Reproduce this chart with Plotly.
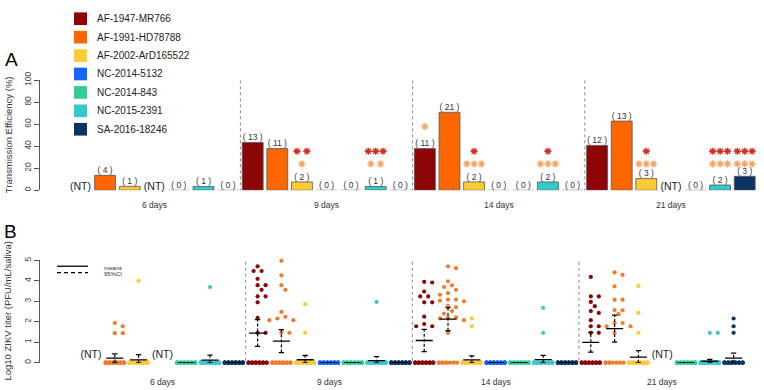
import numpy as np
import plotly.graph_objects as go

W, H = 764, 390
FONT = "Liberation Sans, Arial, sans-serif"

strains = ["AF-1947-MR766", "AF-1991-HD78788", "AF-2002-ArD165522", "NC-2014-5132",
           "NC-2014-843", "NC-2015-2391", "SA-2016-18246"]
colors = ["#8E0505", "#FF6600", "#FFCA33", "#1266FF", "#33CC99", "#36C9CC", "#0B3366"]
dot_colors = ["#8E0505", "#F27A28", "#FFCA33", "#1266FF", "#33CC99", "#36C9CC", "#0B3366"]
days = ["6 days", "9 days", "14 days", "21 days"]

# Panel A: transmission efficiency (%) by day and strain (None = not tested)
eff_6 = [None, 13.5, 3.5, None, 0, 3.4, 0]
eff_9 = [43.3, 37.8, 7.5, 0, 0, 3.4, 0]
eff_14 = [37.8, 70.8, 7.5, 0, 0, 7.5, 0]
eff_21 = [40.7, 62.8, 10.6, None, 0, 4.7, 12.7]

# number of positive saliva samples
npos_6 = [None, 4, 1, None, 0, 1, 0]
npos_9 = [13, 11, 2, 0, 0, 1, 0]
npos_14 = [11, 21, 2, 0, 0, 2, 0]
npos_21 = [12, 13, 3, None, 0, 2, 3]

# significance stars vs AF-1947-MR766 (red) and AF-1991-HD78788 (orange)
star_red_6 = [0, 0, 0, 0, 0, 0, 0]
star_red_9 = [0, 0, 2, 0, 0, 3, 0]
star_red_14 = [0, 0, 1, 0, 0, 1, 0]
star_red_21 = [0, 0, 1, 0, 0, 3, 3]
star_org_6 = [0, 0, 0, 0, 0, 0, 0]
star_org_9 = [0, 0, 1, 0, 0, 2, 0]
star_org_14 = [1, 0, 3, 0, 0, 3, 0]
star_org_21 = [0, 0, 3, 0, 0, 3, 3]

# Panel B: log10 titers of positive samples, and number of mosquitoes tested
titer_6 = [None, [1.94, 1.78, 1.44, 1.44], [4.0], None, [], [3.7], []]
titer_9 = [[4.71, 4.48, 4.48, 4.10, 3.79, 3.79, 3.56, 3.24, 3.24, 2.95, 2.19, 1.46, 1.46],
           [4.98, 4.27, 3.79, 3.56, 2.48, 2.24, 2.16, 2.08, 2.08, 1.46, 1.46],
           [2.86, 1.46], [], [], [2.97], []]
titer_14 = [[3.95, 3.92, 3.48, 3.24, 3.24, 2.95, 2.95, 2.25, 1.89, 1.78, 1.78],
            [4.71, 4.62, 3.98, 3.78, 3.70, 3.56, 3.40, 3.32, 3.08, 3.08, 3.03, 3.00, 2.76, 2.71,
             2.52, 2.40, 2.21, 2.21, 2.17, 2.08, 1.46],
            [2.17, 1.78], [], [], [2.68, 1.46], []]
titer_21 = [[4.19, 3.24, 3.24, 2.97, 2.76, 2.52, 2.43, 2.08, 1.78, 1.78, 1.46, 1.46],
            [4.41, 4.29, 3.73, 3.08, 3.08, 2.57, 2.56, 2.37, 1.94, 1.94, 1.78, 1.78, 1.46],
            [3.75, 2.43, 1.46], None, [], [1.46, 1.46], [2.16, 1.78, 1.46]]
ntest_6 = [None, 30, 30, None, 30, 30, 30]
ntest_9 = [30, 29, 30, 30, 30, 30, 30]
ntest_14 = [29, 30, 28, 30, 30, 28, 30]
ntest_21 = [30, 21, 28, None, 30, 42, 24]

eff = [eff_6, eff_9, eff_14, eff_21]
npos = [npos_6, npos_9, npos_14, npos_21]
star_red = [star_red_6, star_red_9, star_red_14, star_red_21]
star_org = [star_org_6, star_org_9, star_org_14, star_org_21]
titers = [titer_6, titer_9, titer_14, titer_21]
ntest = [ntest_6, ntest_9, ntest_14, ntest_21]

NS = len(strains)
NG = len(days)

# pixel geometry
A_L, A_R, A_TOP, A_BOT = 40, 756, 73, 186
A_C0, A_SL = 80.5, 24.6
B_L, B_R, B_TOP, B_BOT = 42, 756, 258, 363
B_C0, B_SL = 91.0, 23.8


def py(p):
    return 1 - p / H


def px(p):
    return p / W


fig = go.Figure()

# ---------- Panel A ----------
RED_STAR = "#D42A20"
ORG_STAR = "#F5A560"
bx, by, bc = [], [], []
zx, zy = [], []
lbl_x, lbl_y, lbl_t = [], [], []
nt_x = []
srx, sry, sox, soy = [], [], [], []
for g in range(NG):
    for s in range(NS):
        xc = g * NS + s
        v = eff[g][s]
        if v is None:
            nt_x.append(xc)
            continue
        if v > 0:
            bx.append(xc); by.append(v); bc.append(colors[s])
        else:
            zx += [xc - 0.43, xc + 0.43, None]; zy += [0, 0, None]
        lbl_x.append(xc); lbl_y.append(v); lbl_t.append("( %d )" % npos[g][s])
        yr, yo = 35.4, 24.0
        if v > 15:
            yo = v + 20
            yr = v + 31
        for k, (lx, ly, yy) in enumerate([(srx, sry, yr), (sox, soy, yo)]):
            cnt = [star_red, star_org][k][g][s]
            sp = 0.3 if cnt > 2 else 0.4
            for j in range(cnt):
                lx.append(xc + (j - (cnt - 1) / 2) * sp)
                ly.append(yy)

fig.add_trace(go.Bar(x=bx, y=by, width=0.85, marker=dict(color=bc, line=dict(color="#555555", width=0.8)),
                     xaxis="x", yaxis="y", showlegend=False, hoverinfo="skip"))
fig.add_trace(go.Scatter(x=zx, y=zy, mode="lines", line=dict(color="#8a8a8a", width=1),
                         xaxis="x", yaxis="y", showlegend=False, hoverinfo="skip", cliponaxis=False))
fig.add_trace(go.Scatter(x=lbl_x, y=lbl_y, mode="text", text=lbl_t, textposition="top center",
                         textfont=dict(size=8.5, color="#333333", family=FONT),
                         xaxis="x", yaxis="y", showlegend=False, hoverinfo="skip", cliponaxis=False))
fig.add_trace(go.Scatter(x=nt_x, y=[2.7] * len(nt_x), mode="text", text=["(NT)"] * len(nt_x),
                         textposition="middle center", textfont=dict(size=10.5, color="#222222", family=FONT),
                         xaxis="x", yaxis="y", showlegend=False, hoverinfo="skip", cliponaxis=False))
for (sx_, sy_, col) in [(srx, sry, RED_STAR), (sox, soy, ORG_STAR)]:
    fig.add_trace(go.Scatter(x=sx_, y=sy_, mode="markers",
                             marker=dict(symbol="asterisk-open", size=6, color=col,
                                         line=dict(color=col, width=1.3)),
                             xaxis="x", yaxis="y", showlegend=False, hoverinfo="skip", cliponaxis=False))

# ---------- Panel B ----------
def swarm(vals, sx=B_SL, sy=(B_BOT - B_TOP) / 5.0, d=5.5, step=4.0):
    placed, offs = [], []
    cands = [0]
    for j in range(1, 20):
        cands += [j, -j]
    for v in vals:
        xo = 0
        for c in cands:
            xo = c * step
            if all((xo - a) ** 2 + ((v - b) * sy) ** 2 >= d * d for a, b in placed):
                break
        placed.append((xo, v))
        offs.append(xo / sx)
    return offs


mx, my, cx, cy, capx, capy = [], [], [], [], [], []
pts = {s: ([], []) for s in range(NS)}
ntb_x = []
for g in range(NG):
    for s in range(NS):
        xc = g * NS + s
        tv = titers[g][s]
        if tv is None:
            ntb_x.append(xc)
            continue
        n = ntest[g][s]
        nz = n - len(tv)
        npos_z = min(nz, 6)
        zxs = np.linspace(-0.38, 0.38, npos_z) if npos_z > 1 else [0.0]
        for i in range(nz):
            pts[s][0].append(xc + zxs[i % len(zxs)]); pts[s][1].append(0.0)
        for o, v in zip(swarm(tv), tv):
            pts[s][0].append(xc + o); pts[s][1].append(v)
        allv = np.array(list(tv) + [0.0] * nz)
        m = allv.mean()
        mx += [xc - 0.36, xc + 0.36, None]; my += [m, m, None]
        if len(tv) > 0:
            se = allv.std(ddof=1) / np.sqrt(n)
            lo, hi = max(m - 1.96 * se, 0), m + 1.96 * se
            cx += [xc, xc, None]; cy += [lo, hi, None]
            for yy in (lo, hi):
                capx += [xc - 0.11, xc + 0.11, None]; capy += [yy, yy, None]

for s in range(NS):
    fig.add_trace(go.Scatter(x=pts[s][0], y=pts[s][1], mode="markers",
                             marker=dict(color=dot_colors[s], size=4.2, line=dict(width=0)),
                             xaxis="x2", yaxis="y2", showlegend=False, hoverinfo="skip", cliponaxis=False))
fig.add_trace(go.Scatter(x=cx, y=cy, mode="lines", line=dict(color="black", width=1.2, dash="3px,2px"),
                         xaxis="x2", yaxis="y2", showlegend=False, hoverinfo="skip", cliponaxis=False))
fig.add_trace(go.Scatter(x=capx, y=capy, mode="lines", line=dict(color="black", width=1.3),
                         xaxis="x2", yaxis="y2", showlegend=False, hoverinfo="skip", cliponaxis=False))
fig.add_trace(go.Scatter(x=mx, y=my, mode="lines", line=dict(color="black", width=1.3),
                         xaxis="x2", yaxis="y2", showlegend=False, hoverinfo="skip", cliponaxis=False))
fig.add_trace(go.Scatter(x=ntb_x, y=[0.38] * len(ntb_x), mode="text", text=["(NT)"] * len(ntb_x),
                         textposition="middle center", textfont=dict(size=10.5, color="#222222", family=FONT),
                         xaxis="x2", yaxis="y2", showlegend=False, hoverinfo="skip", cliponaxis=False))

shapes = []
annotations = []


def ann(**kw):
    base = dict(showarrow=False, xanchor="center", yanchor="middle")
    base.update(kw)
    annotations.append(base)


for g in range(1, NG):
    xb = g * NS - 0.5
    shapes.append(dict(type="line", xref="x", yref="y", x0=xb, x1=xb, y0=-1, y1=100,
                       line=dict(color="#888888", width=1, dash="dot")))
    shapes.append(dict(type="line", xref="x2", yref="y2", x0=xb, x1=xb, y0=-0.2, y1=5,
                       line=dict(color="#888888", width=1, dash="dot")))
for g in range(NG):
    xc = g * NS + (NS - 1) / 2
    ann(x=xc, xref="x", y=py(201), yref="paper", text=days[g],
        font=dict(size=8.5, color="#333333", family=FONT))
    ann(x=xc, xref="x2", y=py(383), yref="paper", text=days[g],
        font=dict(size=8.5, color="#333333", family=FONT))

# legend
for i, (nm, col) in enumerate(zip(strains, colors)):
    yc = 10 + 18.9 * i
    shapes.append(dict(type="rect", xref="paper", yref="paper", x0=px(74), x1=px(87),
                       y0=py(yc + 6.5), y1=py(yc - 6.5), fillcolor=col, line=dict(width=0)))
    ann(x=px(95), y=py(yc), xref="paper", yref="paper", text=nm, xanchor="left",
        font=dict(size=10, color="#222222", family=FONT))

# means / CI key
shapes.append(dict(type="line", xref="paper", yref="paper", x0=px(57), x1=px(88), y0=py(264), y1=py(264),
                   line=dict(color="black", width=1.3)))
shapes.append(dict(type="line", xref="paper", yref="paper", x0=px(57), x1=px(88), y0=py(270.5), y1=py(270.5),
                   line=dict(color="black", width=1.3, dash="4px,3px")))
ann(x=px(102), y=py(265.5), xref="paper", yref="paper", text="means", xanchor="left",
    font=dict(size=6, color="#333333", family=FONT))
ann(x=px(102), y=py(271.7), xref="paper", yref="paper", text="95%CI", xanchor="left",
    font=dict(size=6, color="#333333", family=FONT))

# panel letters and axis titles
ann(x=px(11), y=py(52), xref="paper", yref="paper", text="A", font=dict(size=19, color="black", family=FONT))
ann(x=px(10), y=py(228), xref="paper", yref="paper", text="B", font=dict(size=19, color="black", family=FONT))
ann(x=px(8), y=py((A_TOP + A_BOT) / 2), xref="paper", yref="paper", text="Transmission Efficiency (%)",
    textangle=-90, font=dict(size=9.5, color="#333333", family=FONT))
ann(x=px(8), y=py((B_TOP + B_BOT) / 2), xref="paper", yref="paper", text="Log10 ZIKV titer (PFU/mL/saliva)",
    textangle=-90, font=dict(size=9.5, color="#333333", family=FONT))

yax = dict(showgrid=False, zeroline=False, showline=True, linecolor="#555555", linewidth=1,
           ticks="outside", ticklen=5, tickcolor="#555555", tickangle=-90,
           tickfont=dict(size=8.5, color="#444444", family=FONT), fixedrange=True)

fig.update_layout(
    width=W, height=H, margin=dict(l=0, r=0, t=0, b=0),
    paper_bgcolor="white", plot_bgcolor="white",
    font=dict(family=FONT),
    showlegend=False, barmode="overlay",
    xaxis=dict(domain=[px(A_L), px(A_R)], range=[(A_L - A_C0) / A_SL, (A_R - A_C0) / A_SL],
               visible=False, fixedrange=True),
    yaxis=dict(domain=[py(A_BOT), py(A_TOP)], range=[0, 100], tickvals=[0, 20, 40, 60, 80, 100], **yax),
    xaxis2=dict(domain=[px(B_L), px(B_R)], range=[(B_L - B_C0) / B_SL, (B_R - B_C0) / B_SL],
                visible=False, fixedrange=True),
    yaxis2=dict(domain=[py(B_BOT), py(B_TOP)], range=[0, 5], tickvals=[0, 1, 2, 3, 4, 5], **yax),
    shapes=shapes, annotations=annotations,
)

fig.write_html("out.html", config={"displayModeBar": False, "staticPlot": True},
               post_script="document.body.style.margin='0px';")
